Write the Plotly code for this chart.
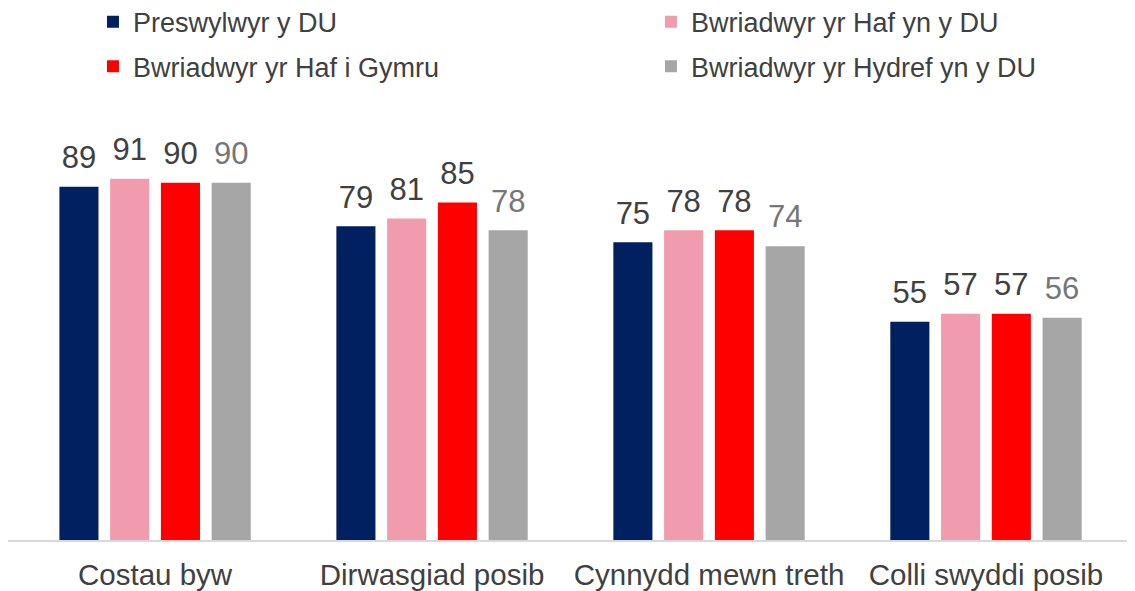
import plotly.graph_objects as go

categories = ["Costau byw", "Dirwasgiad posib", "Cynnydd mewn treth", "Colli swyddi posib"]
series_names = ["Preswylwyr y DU", "Bwriadwyr yr Haf yn y DU", "Bwriadwyr yr Haf i Gymru", "Bwriadwyr yr Hydref yn y DU"]
preswylwyr = [89, 79, 75, 55]
haf_du = [91, 81, 78, 57]
haf_cymru = [90, 85, 78, 57]
hydref_du = [90, 78, 74, 56]

values = [preswylwyr, haf_du, haf_cymru, hydref_du]
colors = ["#002060", "#F09CAE", "#FF0000", "#A6A6A6"]
label_colors = ["#404040", "#404040", "#404040", "#767676"]
legends = ["legend", "legend2", "legend", "legend2"]

FONT = "Liberation Sans, Arial, sans-serif"

fig = go.Figure()
for i, (name, vals, col, lg) in enumerate(zip(series_names, values, colors, legends)):
    fig.add_trace(go.Bar(
        x=categories, y=vals, name=name,
        marker=dict(color=col, line=dict(width=0)),
        offsetgroup=str(i),
        legend=lg, legendgroup=name,
    ))
# data labels as text placed above each bar (grouped like the bars)
for i, (name, vals, lcol) in enumerate(zip(series_names, values, label_colors)):
    fig.add_trace(go.Scatter(
        x=categories, y=vals, mode="text+markers",
        marker=dict(size=16, opacity=0),
        text=[str(v) for v in vals], textposition="top center",
        textfont=dict(family=FONT, size=31, color=lcol),
        offsetgroup=str(i), showlegend=False, hoverinfo="skip",
        cliponaxis=False,
    ))

legend_common = dict(
    orientation="v",
    font=dict(family=FONT, size=27, color="#404040"),
    bgcolor="rgba(0,0,0,0)",
    xref="container", yref="paper",
    xanchor="left", yanchor="top",
    tracegroupgap=6.5,
    itemwidth=30,
)

fig.update_layout(
    width=1127, height=583,
    margin=dict(l=0, r=5, t=135, b=51, autoexpand=False),
    paper_bgcolor="white", plot_bgcolor="white",
    barmode="group", bargap=0.267, bargroupgap=0.23,
    scattermode="group", scattergap=0.267,
    showlegend=True,
    legend=dict(x=0.0754, y=1.366, **legend_common),
    legend2=dict(x=0.5705, y=1.366, **legend_common),
    xaxis=dict(
        range=[-0.531, 3.52],
        showline=True, linecolor="#D9D9D9", linewidth=2,
        ticks="", showgrid=False, zeroline=False,
        tickangle=0, automargin=False,
        tickfont=dict(family=FONT, size=29.5, color="#404040"),
        ticklabelstandoff=8,
    ),
    yaxis=dict(
        range=[0, 100], showticklabels=False, showgrid=False,
        zeroline=False, showline=False, ticks="", automargin=False,
    ),
)

fig.write_html("out.html")
